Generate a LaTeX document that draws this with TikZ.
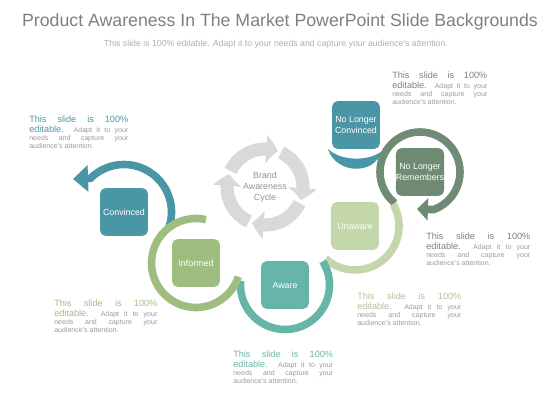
\documentclass[tikz,border=0pt]{standalone}
\usepackage{fontspec}
\setmainfont{Liberation Sans}
\usetikzlibrary{arrows.meta,bending}
\definecolor{tealblue}{HTML}{4B96A6}
\definecolor{sage}{HTML}{6F8B74}
\definecolor{pale}{HTML}{C4D7AB}
\definecolor{leaf}{HTML}{9DBE7F}
\definecolor{aqua}{HTML}{67B5A8}
\definecolor{cyclegray}{HTML}{D9D9D9}
\definecolor{titlegray}{HTML}{7F7F7F}
\definecolor{bodygray}{HTML}{9A9A9A}
\pgfdeclarelayer{back}
\pgfsetlayers{back,main}
\newcommand{\blurbtext}[1]{{\fontsize{6.5}{8}\selectfont\color{#1}This slide is 100\%\rule[-1.4pt]{0pt}{0pt}\linebreak editable.} Adapt it to your\linebreak needs and capture your\linebreak audience's attention.}
\tikzset{
  stage/.style={rounded corners=4pt, minimum width=34pt, minimum height=34pt, inner sep=0pt,
    text=white, align=center, font=\fontsize{6.3}{7.6}\selectfont},
  ring/.style={line width=5.4pt},
  blurb/.style={inner sep=0pt, anchor=north west, align=justify, text=bodygray,
    font={\fontsize{5}{5.7}\selectfont\hyphenpenalty=10000\tolerance=3000\hbadness=10000\emergencystretch=10pt}},
  cyc/.style={line width=9.4pt, draw=cyclegray, -{Triangle[width=19.5pt,length=8.5pt,bend]}}
}
\begin{document}
\begin{tikzpicture}[x=0.025cm,y=0.025cm]
  \useasboundingbox (0,0) rectangle (560,-420);
  % heading
  \node[anchor=base, text=titlegray, font=\fontsize{12.6}{15}\selectfont] (title) at (280,-27)
    {Product Awareness In The Market PowerPoint Slide Backgrounds};
  \node[anchor=base, text=bodygray!80, font=\fontsize{6.2}{7}\selectfont] (sub) at (276,-47)
    {This slide is 100\% editable. Adapt it to your needs and capture your audience's attention.};
  % stages
  \node[stage, fill=tealblue] (conv) at (124,-212) {Convinced};
  \node[stage, fill=tealblue] (nlc) at (356,-125) {No Longer\\Convinced};
  \node[stage, fill=sage] (nlr) at (420,-172) {No Longer\\Remembers};
  \node[stage, fill=pale] (unaw) at (355,-226) {Unaware};
  \node[stage, fill=leaf] (inf) at (196,-263) {Informed};
  \node[stage, fill=aqua] (aware) at (285,-285) {Aware};
  % cycle in the middle
  \node[text=titlegray!85, align=center, font=\fontsize{6.3}{7.8}\selectfont] (hub) at (265,-187)
    {Brand\\Awareness\\Cycle};
  \foreach \s in {155,65,-25,-115}
    \draw[cyc] (hub.center) ++(\s:38) arc[start angle=\s, end angle=\s-85, radius=38];
  % rings
  \begin{pgfonlayer}{back}
    \draw[ring, sage, -{Triangle[width=15.6pt,length=7.8pt]}]
      (nlr.center) ++(231:40) arc[start angle=231, end angle=-70, radius=40] -- (417,-209);
    \draw[ring, pale] (unaw.center) ++(228:44) arc[start angle=228, end angle=390, radius=44];
    \draw[ring, tealblue, -{Triangle[width=18.5pt,length=10.7pt]}]
      (conv.center) ++(-20:47.5) arc[start angle=-20, end angle=135, radius=47.5] -- (73,-179);
    \fill[tealblue] (328,-149) .. controls (336,-174) and (374,-176) .. (382,-151)
      .. controls (370,-161) and (342,-162) .. (328,-149) -- cycle;
    \draw[ring, aqua] (aware.center) ++(175:44.5) arc[start angle=175, end angle=392, radius=44.5];
    \draw[ring, leaf] (inf.center) ++(77:44.5) arc[start angle=77, end angle=342, radius=44.5];
  \end{pgfonlayer}
  % notes
  \node[blurb, text width=70.4pt] (n1) at (29,-116) {\blurbtext{tealblue}};
  \node[blurb, text width=67.6pt] (n2) at (392,-72) {\blurbtext{titlegray}};
  \node[blurb, text width=74pt] (n3) at (426,-233) {\blurbtext{titlegray}};
  \node[blurb, text width=73.3pt] (n4) at (54,-300) {\blurbtext{leaf}};
  \node[blurb, text width=74pt] (n5) at (357,-293) {\blurbtext{pale!90!black}};
  \node[blurb, text width=71pt] (n6) at (233,-351) {\blurbtext{aqua}};
\end{tikzpicture}
\end{document}
